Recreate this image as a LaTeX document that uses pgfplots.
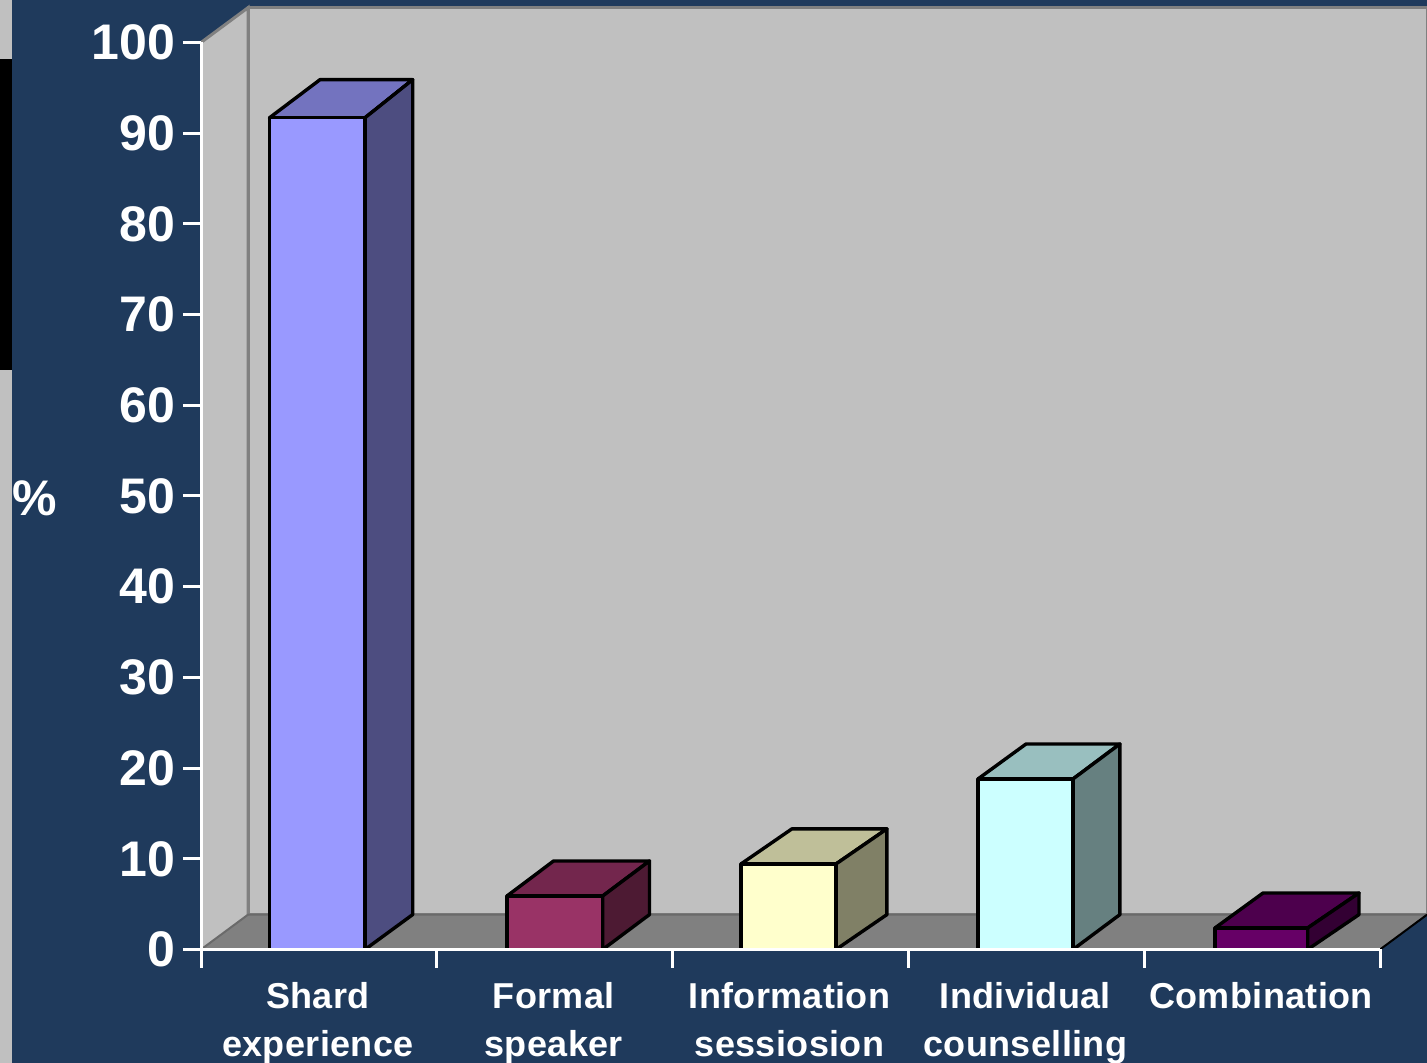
\documentclass[border=0pt]{standalone}
\usepackage{fontspec}
\setmainfont{Liberation Sans}
\usepackage{pgfplots}
\pgfplotsset{compat=1.18}

\definecolor{navy}{HTML}{1F3A5C}
\definecolor{wall}{HTML}{C0C0C0}
\definecolor{floorc}{HTML}{808080}
\definecolor{floorl}{HTML}{6A6A6A}

\tikzset{face/.style={draw=black, line width=1.7pt, line join=round}}

% 1 px of the reference = 0.5pt here
\begin{document}
\begin{tikzpicture}
\clip (0,0) rectangle (713.5pt,531.5pt);
\fill[navy] (0,0) rectangle (713.5pt,531.5pt);
\fill[wall] (0,0) rectangle (6pt,531.5pt);
\fill[black] (0,346.5pt) rectangle (6pt,502pt);
\begin{axis}[
  at={(100.5pt,56.75pt)}, anchor=south west,
  width=589.5pt, height=453.5pt, scale only axis,
  xmin=-0.5, xmax=4.5, ymin=0, ymax=100,
  clip=false, axis on top,
  axis x line*=bottom, axis y line*=left,
  axis line style={white, line width=1.5pt, -},
  tick style={white, line width=1.5pt},
  tick align=outside, major tick length=9pt,
  ytick={0,10,...,100},
  xtick={-0.5,0.5,1.5,2.5,3.5,4.5},
  x tick label as interval,
  xticklabels={Shard\\experience, Formal\\speaker, Information\\sessiosion, Individual\\counselling, Combination},
  /pgf/number format/assume math mode=true,
  yticklabel style={white, font=\bfseries\fontsize{25}{25}\selectfont, xshift=-0.5pt},
  xticklabel style={white, font=\bfseries\fontsize{18}{24}\selectfont\addfontfeatures{LetterSpace=1}, align=center, yshift=-3.75pt, xshift=-0.5pt},
  ylabel={\%},
  ylabel style={white, font=\bfseries\fontsize{25}{25}\selectfont, rotate=-90, anchor=center, at={(axis description cs:-0.1408,0.498)}},
]
% walls and floor
\addplot[fill=wall, draw=floorc, line width=1.5pt] coordinates {(-0.3,3.85) (4.7,3.85) (4.7,103.85) (-0.3,103.85)} --cycle;
\addplot[fill=wall, draw=none] coordinates {(-0.5,0) (-0.3,3.85) (-0.3,103.85) (-0.5,100)} --cycle;
\addplot[draw=floorc, line width=1.5pt] coordinates {(-0.5,100) (-0.3,103.85) (-0.3,3.85)};
\addplot[fill=floorc, draw=none] coordinates {(-0.5,0) (-0.3,3.85) (4.7,3.85) (4.5,0)} --cycle;
\addplot[draw=floorl, line width=1pt] coordinates {(-0.5,0) (-0.3,3.85) (4.7,3.85)};
\addplot[draw=black, line width=1pt] coordinates {(4.5,0) (4.7,3.85)};

% bar 1
\addplot[fill={rgb,255:red,115;green,115;blue,191}, face] coordinates {(-0.2095,91.7) (0.0047,95.9) (0.3978,95.9) (0.1955,91.7)} --cycle;
\addplot[fill={rgb,255:red,77;green,77;blue,128}, face] coordinates {(0.1955,0) (0.3978,3.85) (0.3978,95.9) (0.1955,91.7)} --cycle;
\addplot[ybar, bar shift=0pt, bar width=0.405, fill={rgb,255:red,153;green,153;blue,255}, face] coordinates {(-0.007,91.7)};

% bar 2
\addplot[fill={rgb,255:red,115;green,38;blue,77}, face] coordinates {(0.7977,5.9) (0.9953,9.76) (1.402,9.76) (1.2036,5.9)} --cycle;
\addplot[fill={rgb,255:red,77;green,26;blue,51}, face] coordinates {(1.2036,0) (1.402,3.85) (1.402,9.76) (1.2036,5.9)} --cycle;
\addplot[ybar, bar shift=0pt, bar width=0.406, fill={rgb,255:red,153;green,51;blue,102}, face] coordinates {(1.0007,5.9)};

% bar 3
\addplot[fill={rgb,255:red,191;green,191;blue,153}, face] coordinates {(1.79,9.43) (2.006,13.3) (2.409,13.3) (2.193,9.43)} --cycle;
\addplot[fill={rgb,255:red,128;green,128;blue,102}, face] coordinates {(2.193,0) (2.409,3.85) (2.409,13.3) (2.193,9.43)} --cycle;
\addplot[ybar, bar shift=0pt, bar width=0.403, fill={rgb,255:red,255;green,255;blue,204}, face] coordinates {(1.9915,9.43)};

% bar 4
\addplot[fill={rgb,255:red,153;green,191;blue,191}, face] coordinates {(2.795,18.8) (2.999,22.66) (3.397,22.66) (3.198,18.8)} --cycle;
\addplot[fill={rgb,255:red,102;green,128;blue,128}, face] coordinates {(3.198,0) (3.397,3.85) (3.397,22.66) (3.198,18.8)} --cycle;
\addplot[ybar, bar shift=0pt, bar width=0.403, fill={rgb,255:red,204;green,255;blue,255}, face] coordinates {(2.9965,18.8)};

% bar 5
\addplot[fill={rgb,255:red,77;green,0;blue,77}, face] coordinates {(3.8,2.37) (4.004,6.23) (4.411,6.23) (4.193,2.37)} --cycle;
\addplot[fill={rgb,255:red,51;green,0;blue,51}, face] coordinates {(4.193,0) (4.411,3.85) (4.411,6.23) (4.193,2.37)} --cycle;
\addplot[ybar, bar shift=0pt, bar width=0.393, fill={rgb,255:red,102;green,0;blue,102}, face] coordinates {(3.9965,2.37)};
\end{axis}
\end{tikzpicture}
\end{document}
